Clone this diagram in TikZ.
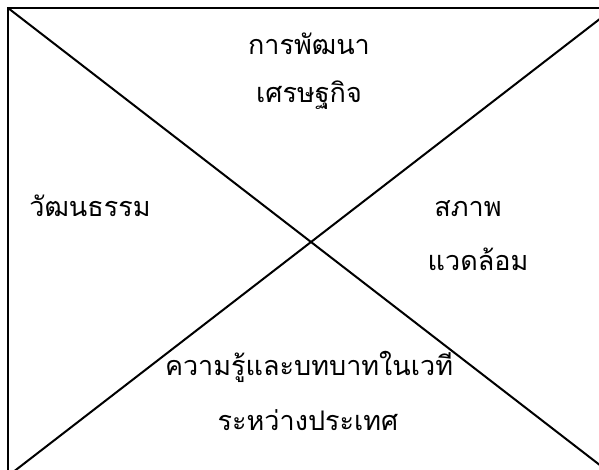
\documentclass[tikz,border=0pt]{standalone}
\usepackage{fontspec}
\newfontfamily\thaifont[Script=Thai]{Loma}
\begin{document}
\begin{tikzpicture}[x=1pt,y=-1pt,
  lbl/.style={font=\thaifont\fontsize{27}{32}\selectfont, inner sep=0pt, anchor=base},
  edge/.style={line width=2pt}]
\useasboundingbox (0,0) rectangle (599,470);
\clip (0,0) rectangle (599,470);
\coordinate (tl) at (8,8);
\coordinate (br) at (614,476);
\coordinate (tr) at (614,8);
\coordinate (bl) at (8,476);
\draw[edge] (tl) rectangle (br);
\draw[edge] (tl) -- (br);
\draw[edge] (bl) -- (tr);
\node[lbl] (a1) at (309,55) {การพัฒนา};
\node[lbl] (a2) at (309,103) {เศรษฐกิจ};
\node[lbl] (b1) at (90,217) {วัฒนธรรม};
\node[lbl] (c1) at (468,217) {สภาพ};
\node[lbl] (c2) at (478,270) {แวดล้อม};
\node[lbl] (d1) at (309,375) {ความรู้และบทบาทในเวที};
\node[lbl] (d2) at (308,430) {ระหว่างประเทศ};
\end{tikzpicture}
\end{document}
